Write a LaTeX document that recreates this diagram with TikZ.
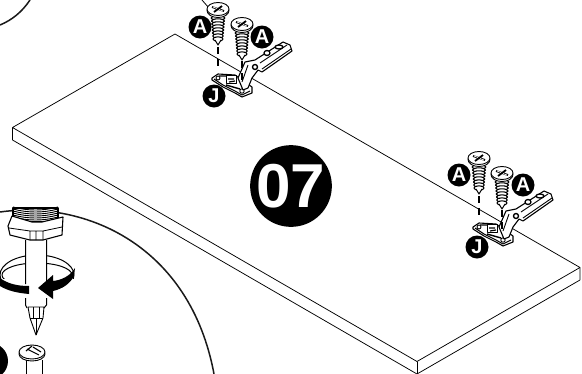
\documentclass[tikz,border=0pt]{standalone}
\usepackage{fontspec}
\setmainfont{Liberation Sans}
\begin{document}
\begin{tikzpicture}[
        x=1pt,
        y=-1pt,
        line join=round,
        edge/.style={line width=0.75pt},
        rim/.style={line width=1.5pt, black!90},
        part/.style={draw, fill=white, line width=0.9pt},
        leader/.style={line width=1.1pt, dash pattern=on 7pt off 5pt},
        marker/.style={circle, fill=black, text=white, inner sep=0pt, minimum size=23pt, font=\bfseries\fontsize{20}{20}\selectfont},
        stepmark/.style={circle, fill=black, text=white, inner sep=0pt, minimum size=76pt, font=\bfseries\fontsize{62}{62}\selectfont},
        screwpic/.pic={
            \foreach \i in {0,...,7}
                \draw[part, line width=1.1pt] (0,{9+\i*3}) ellipse ({6.8-\i*0.25} and 2.2);
            \draw[part, line width=1pt] (-3,31) -- (0,36) -- (3,31);
            \draw[part] (0,1.5) ellipse (11 and 7);
            \draw[part] (0,0) ellipse (11 and 6.5);
            \draw[line width=1.8pt] (-6,-2) -- (6,2) (-4,3) -- (4,-3);
            \draw[white, line width=0.7pt] (-5,-2) -- (-1,-0.5) (1,0.5) -- (5,2);
        },
        hingepic/.pic={
            \draw[part, line width=1.1pt] (-23,-2) -- (-17,-6) -- (0,-5) -- (17,7) -- (17,13) -- (7,17) -- (0,13) -- (-12,7) -- (-23,0) -- cycle;
            \draw[line width=1pt] (-21,-1) -- (-12,5) -- (0,11) -- (7,15) -- (15,11);
            \draw[line width=1.4pt] (-9,5) -- (5,9) (-16,-4) -- (-4,-4);
            \draw[part] (-9,-5) rectangle (1,3);
            \draw[line width=1.2pt] (-7,-1) -- (-1,-1) (-6,2) -- (0,1);
            \draw[part] (-17,-2) circle (2);
            \draw[part] (7,11) circle (2.2);
            \draw[part, line width=1.1pt] (3,-2) -- (10,-18) -- (20,-20) -- (48,-38) -- (55,-35) -- (57,-29) -- (27,-8) -- (23,-10) -- (17,-2) -- (13,8) -- (8,10) -- cycle;
            \draw[line width=0.9pt] (13,-15) -- (7,2) (25,-17) -- (52,-35) (27,-11) -- (56,-31);
            \draw[part, line width=1.3pt] (32,-27) ellipse (3 and 2.5);
            \draw[part, line width=1.3pt] (44,-33) ellipse (4 and 2);
            \draw[part, line width=1.4pt] (20,-13) circle (2.5);
        }
    ]
      \useasboundingbox (0,0) rectangle (582,373);
      \clip (0,0) rectangle (582,373);

      % panel
      \coordinate (top) at (175,34);
      \coordinate (left) at (12.5,127.5);
      \coordinate (leftb) at (12.5,140);
      \coordinate (right) at (580,267.5);
      \coordinate (rightb) at (580,280);
      \coordinate (front) at (417,361.5);
      \coordinate (frontb) at (417,374);
      \draw[edge] (top) -- (right) -- (front) -- (left) -- cycle;
      \draw[edge] (left) -- (leftb) -- (frontb) -- (rightb) -- (right);
      \draw[edge] (front) -- (frontb);

      \node[stepmark] (step07) at (291,186) {07};

      % first hinge
      \draw[line width=0.8pt] (202,0) -- (209,8);
      \pic at (235,80) {hingepic};
      \pic at (218,9) {screwpic};
      \pic at (242,24) {screwpic};
      \coordinate (tipa) at (218,47);
      \coordinate (holea) at (218,68);
      \coordinate (tipb) at (242,61);
      \coordinate (holeb) at (242,81);
      \draw[leader] (tipa) -- (holea);
      \draw[leader] (tipb) -- (holeb);
      \node[marker] (a1) at (200,27) {A};
      \node[marker] (a2) at (262,37) {A};
      \node[marker] (j1) at (214,96) {J};

      % second hinge
      \pic at (496,229) {hingepic};
      \pic at (479,158) {screwpic};
      \pic at (502,173) {screwpic};
      \coordinate (tipc) at (479,196);
      \coordinate (holec) at (479,217);
      \coordinate (tipd) at (502,210);
      \coordinate (holed) at (502,230);
      \draw[leader] (tipc) -- (holec);
      \draw[leader] (tipd) -- (holed);
      \node[marker] (a3) at (459,175) {A};
      \node[marker] (a4) at (523,185) {A};
      \node[marker] (j2) at (477,247) {J};

      % detail circle
      \draw[rim] (0,212) .. controls (85,200) and (190,245) .. (214,374);
      \draw[rim] (0,25) .. controls (12,20) and (22,12) .. (30,0);

      % driver
      \begin{scope}
        \clip (-1,245) rectangle (80,278);
        \draw[line width=1pt] (37,275) ellipse (37 and 20);
        \draw[line width=1pt] (37,275) ellipse (35 and 12);
      \end{scope}
      \draw[part, draw=none] (25.5,240) rectangle (46.5,305);
      \draw[line width=1pt] (25.5,240) -- (25.5,284) (46.5,240) -- (46.5,284)
          (25.5,298) -- (25.5,305) -- (27,308) (46.5,298) -- (46.5,305) -- (44,308);
      \draw[part, line width=1.1pt] (13,208) rectangle (58,222);
      \foreach \i in {207,209,...,217}
          \draw[line width=0.9pt] (13,\i) .. controls +(15,4) and +(-15,4) .. (58,\i);
      \draw[part, line width=1.1pt] (8,226) -- (12,216) -- (32,222) -- (42,222) -- (63,217) -- (62,235) -- (43,240) -- (30,240) -- (10,235) -- cycle;
      \draw[line width=0.8pt] (9,228) -- (30,231) -- (43,231) -- (62,227) (30,231) -- (30,240) (36,231) -- (36,240) (43,231) -- (43,240);
      \draw[part] (28,307) -- (44,307) -- (43,318) -- (36,335) -- (30,318) -- cycle;
      \draw[line width=0.8pt] (30,318) -- (43,318) (36,318) -- (36,335) (33,307) -- (33,318) (39,307) -- (39,318);

      % turning arrow
      \fill (0,278) .. controls (8,284) and (18,286) .. (29,286) -- (29,294) .. controls (18,293) and (8,291) .. (0,286) -- cycle;
      \fill (38,288) -- (53,275) -- (53,281) .. controls (62,280) and (70,276) .. (75,268) -- (74,276) .. controls (70,284) and (62,289) .. (53,291) -- (53,299) -- cycle;

      % screw and marker below
      \draw[line width=1pt] (26,360) -- (26,374) (42,360) -- (42,374);
      \draw[part] (32,354) ellipse (13 and 7);
      \draw[part] (32,352) ellipse (13 and 7);
      \draw[line width=1.1pt] (27,349) -- (39,355) (33,347) -- (41,352) (26,351) -- (32,346);
      \node[marker, minimum size=36pt] (b1) at (-10,361) {};
    \end{tikzpicture}
\end{document}
